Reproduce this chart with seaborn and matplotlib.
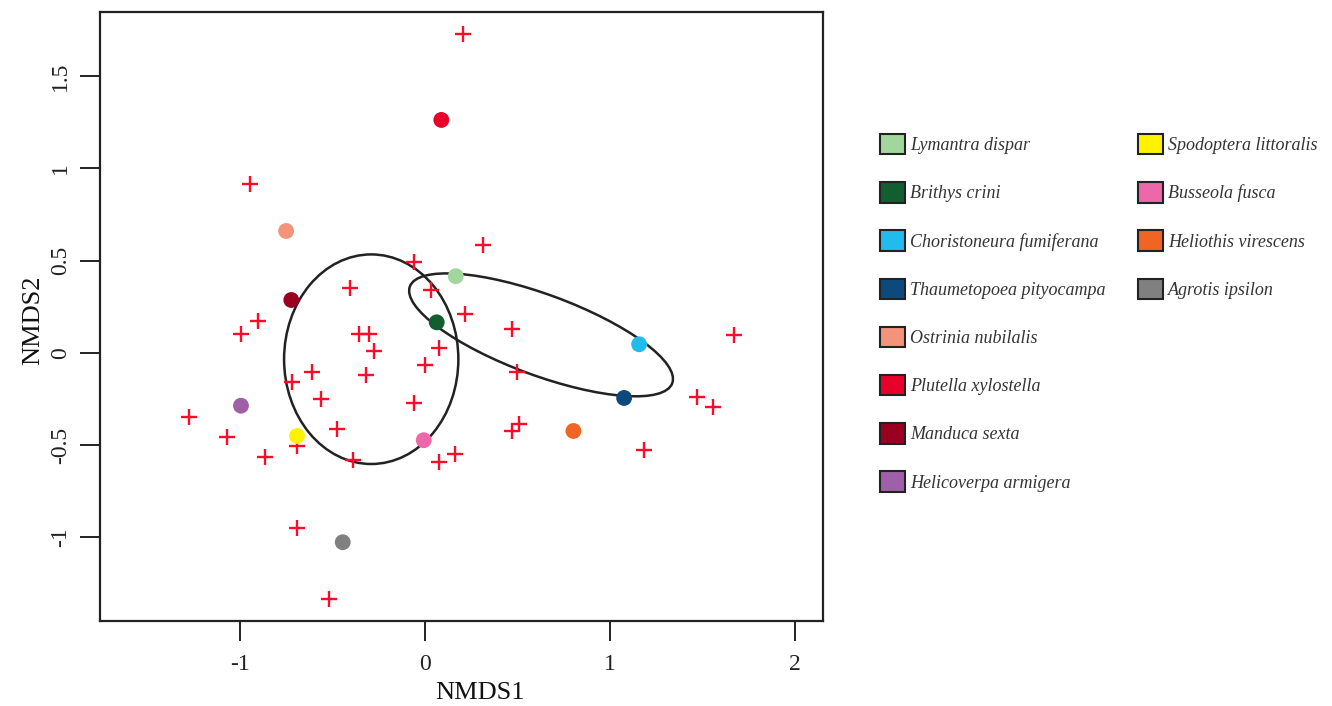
import matplotlib
matplotlib.use("Agg")
import matplotlib.pyplot as plt
import seaborn as sns
import pandas as pd
from matplotlib.patches import Ellipse, Patch
from matplotlib.font_manager import FontProperties

# ---- data ----
site_x = [0.207, -0.946, 0.314, -0.061, 0.031, -0.405, -0.904, -0.996, 0.218, 0.472,
          -0.358, -0.304, -0.276, 0.074, 0.000, -0.611, 0.497, -0.317, -0.721, -0.560,
          1.670, 1.470, 1.555, -1.278, -0.059, -0.477, -1.072, 0.510, 0.472, -0.690,
          0.160, 1.184, -0.863, -0.389, 0.074, -0.692, -0.521]
site_y = [1.727, 0.918, 0.587, 0.495, 0.343, 0.351, 0.173, 0.105, 0.211, 0.132,
          0.103, 0.103, 0.011, 0.028, -0.064, -0.105, -0.105, -0.119, -0.159, -0.248,
          0.099, -0.240, -0.293, -0.345, -0.273, -0.412, -0.454, -0.383, -0.423, -0.502,
          -0.546, -0.526, -0.562, -0.580, -0.593, -0.949, -1.332]

species = ["Lymantra dispar", "Brithys crini", "Choristoneura fumiferana",
           "Thaumetopoea pityocampa", "Ostrinia nubilalis", "Plutella xylostella",
           "Manduca sexta", "Helicoverpa armigera", "Spodoptera littoralis",
           "Busseola fusca", "Heliothis virescens", "Agrotis ipsilon"]
species_x = [0.166, 0.063, 1.157, 1.076, -0.751, 0.088, -0.723, -0.995, -0.692, -0.007, 0.802, -0.445]
species_y = [0.416, 0.166, 0.047, -0.244, 0.661, 1.263, 0.287, -0.286, -0.450, -0.473, -0.423, -1.026]
species_colors = ["#a3d69c", "#135e2e", "#22bbee", "#0c4a7e", "#f2937a", "#e8002b",
                  "#9a0020", "#a060a8", "#fff200", "#ec68a8", "#f06424", "#808080"]

legend_col1 = species[:8]
legend_col2 = species[8:]

# ellipses: centre x, centre y, semi-axis x, semi-axis y, angle (deg)
ell_cx = [-0.291, 0.627]
ell_cy = [-0.034, 0.098]
ell_a = [0.471, 0.756]
ell_b = [0.568, 0.219]
ell_angle = [0.0, -20.3]

x_ticks = [-1, 0, 1, 2]
x_tick_labels = ["-1", "0", "1", "2"]
y_ticks = [-1, -0.5, 0, 0.5, 1, 1.5]
y_tick_labels = ["-1", "-0.5", "0", "0.5", "1", "1.5"]

# ---- plot ----
sns.set_theme(style="white")
plt.rcParams["font.family"] = ["Liberation Serif", "DejaVu Serif"]

fig = plt.figure(figsize=(13.32, 7.06), dpi=100)
ax = fig.add_axes([100 / 1332, 1 - 621 / 706, 723 / 1332, 609 / 706])

sites = pd.DataFrame({"NMDS1": site_x, "NMDS2": site_y})
sns.scatterplot(data=sites, x="NMDS1", y="NMDS2", marker="+", color="#ff0a28",
                s=120, linewidth=1.7, ax=ax, zorder=3)

spdf = pd.DataFrame({"NMDS1": species_x, "NMDS2": species_y, "species": species})
sns.scatterplot(data=spdf, x="NMDS1", y="NMDS2", hue="species",
                palette=dict(zip(species, species_colors)), s=130,
                edgecolor="none", legend=False, ax=ax, zorder=4)

for cx, cy, a, b, ang in zip(ell_cx, ell_cy, ell_a, ell_b, ell_angle):
    ax.add_patch(Ellipse((cx, cy), width=2 * a, height=2 * b, angle=ang,
                         fill=False, edgecolor="#222222", linewidth=1.8, zorder=2))

ax.set_xlim(-1.757, 2.151)
ax.set_ylim(-1.453, 1.848)
ax.set_xticks(x_ticks)
ax.set_xticklabels(x_tick_labels)
ax.set_yticks(y_ticks)
ax.set_yticklabels(y_tick_labels, rotation=90, va="center")
ax.tick_params(direction="out", length=14.5, width=1.4, labelsize=17,
               colors="#222222", left=True, bottom=True)
ax.tick_params(axis="x", pad=9)
ax.tick_params(axis="y", pad=6.5)
for sp in ax.spines.values():
    sp.set_color("#222222")
    sp.set_linewidth(1.6)

ax.set_xlabel("NMDS1", fontsize=19, color="#111111")
ax.set_ylabel("NMDS2", fontsize=19, color="#111111")
ax.xaxis.set_label_coords((480 - 100) / 723, (621 - 682) / 609)
ax.yaxis.set_label_coords((44 - 100) / 723, (621 - 320) / 609)

fprop = FontProperties(family=["Liberation Serif", "DejaVu Serif"], style="italic", size=13)
color_of = dict(zip(species, species_colors))

def make_legend(names, x_px, y_px):
    handles = [Patch(facecolor=color_of[n], edgecolor="#222222", linewidth=1.5) for n in names]
    leg = fig.legend(handles, names, loc="upper left",
                     bbox_to_anchor=(x_px / 1332, 1 - y_px / 706),
                     bbox_transform=fig.transFigure, frameon=False,
                     borderpad=0, borderaxespad=0, handlelength=1.38, handleheight=1.36,
                     handletextpad=0.3, labelspacing=1.54, prop=fprop)
    for t in leg.get_texts():
        t.set_color("#333333")
    return leg

make_legend(legend_col1, 880, 134)
make_legend(legend_col2, 1138, 134)

fig.savefig("out.png", dpi=100, facecolor="white")
